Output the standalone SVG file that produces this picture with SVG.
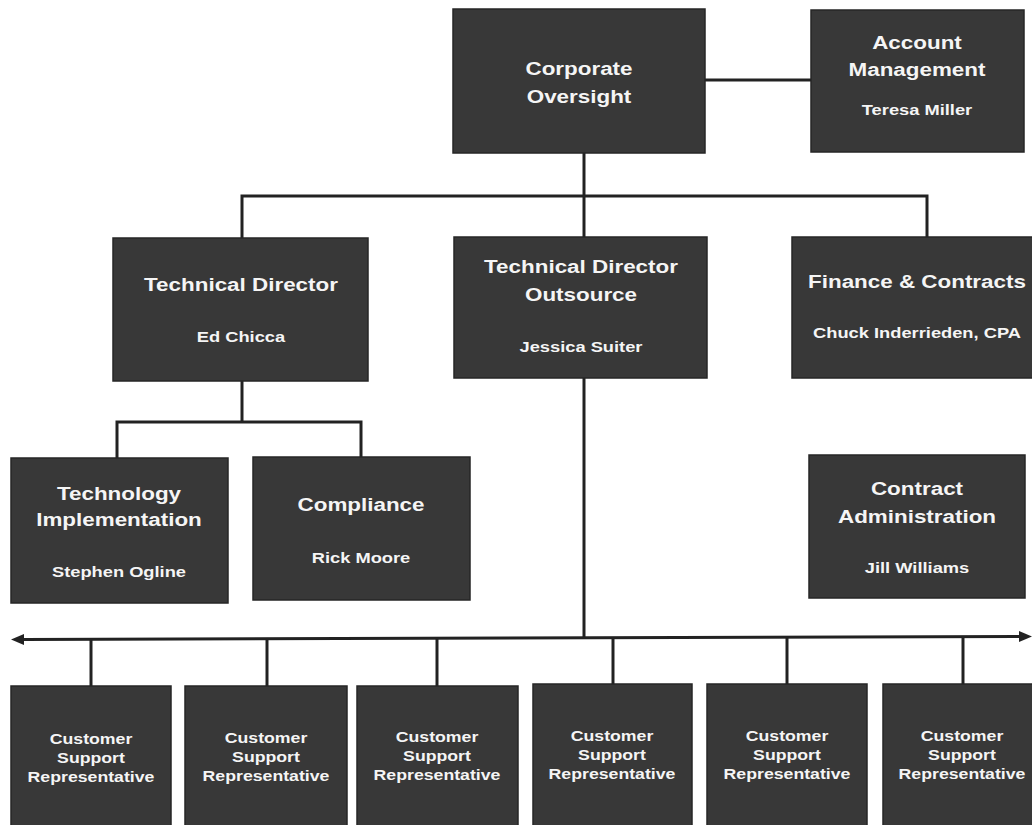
<svg xmlns="http://www.w3.org/2000/svg" width="1032" height="825" viewBox="0 0 1032 825">
<defs>
<style>
.box{fill:#383838;stroke:#262626;stroke-width:1.5}
.t{font-family:"Liberation Sans",Arial,sans-serif;font-weight:bold;fill:#f5f5f5;text-anchor:middle;font-size:19px}
.n{font-family:"Liberation Sans",Arial,sans-serif;font-weight:bold;fill:#f5f5f5;text-anchor:middle;font-size:15.5px}
.c{font-family:"Liberation Sans",Arial,sans-serif;font-weight:bold;fill:#f5f5f5;text-anchor:middle;font-size:15px}
.ln{stroke:#222;stroke-width:3;fill:none}
</style>
<marker id="arr" markerUnits="userSpaceOnUse" markerWidth="14" markerHeight="12" viewBox="0 0 14 12" refX="0" refY="6" orient="auto-start-reverse">
<path d="M0,0.5 L13,6 L0,11.5 z" fill="#222"/>
</marker>
</defs>
<rect width="1032" height="825" fill="#ffffff"/>

<g id="connectors">
<line class="ln" x1="705" y1="80" x2="811" y2="80"/>
<line class="ln" x1="584" y1="153" x2="584" y2="237"/>
<polyline class="ln" points="242,238 242,196 927,196 927,237"/>
<line class="ln" x1="242" y1="381" x2="242" y2="422"/>
<polyline class="ln" points="117,458 117,422 361,422 361,457"/>
<line class="ln" x1="584" y1="378" x2="584" y2="638"/>
<line class="ln" x1="24" y1="639.5" x2="1019" y2="636.5" marker-start="url(#arr)" marker-end="url(#arr)"/>
<line class="ln" x1="91" y1="639" x2="91" y2="686"/>
<line class="ln" x1="267" y1="639" x2="267" y2="686"/>
<line class="ln" x1="437" y1="638" x2="437" y2="686"/>
<line class="ln" x1="613" y1="638" x2="613" y2="686"/>
<line class="ln" x1="787" y1="637" x2="787" y2="686"/>
<line class="ln" x1="963" y1="637" x2="963" y2="686"/>
</g>

<g id="corporate">
<rect class="box" x="453" y="9" width="252" height="144"/>
<text class="t" transform="translate(579 75) scale(1.18 1)">Corporate</text>
<text class="t" transform="translate(579 103) scale(1.18 1)">Oversight</text>
</g>
<g id="account">
<rect class="box" x="811" y="10" width="213" height="142"/>
<text class="t" transform="translate(917 49) scale(1.18 1)">Account</text>
<text class="t" transform="translate(917 76) scale(1.18 1)">Management</text>
<text class="n" transform="translate(917 115) scale(1.18 1)">Teresa Miller</text>
</g>
<g id="tech-director">
<rect class="box" x="113" y="238" width="255" height="143"/>
<text class="t" transform="translate(241 291) scale(1.18 1)">Technical Director</text>
<text class="n" transform="translate(241 342) scale(1.18 1)">Ed Chicca</text>
</g>
<g id="tech-director-outsource">
<rect class="box" x="454" y="237" width="253" height="141"/>
<text class="t" transform="translate(581 273) scale(1.18 1)">Technical Director</text>
<text class="t" transform="translate(581 301) scale(1.18 1)">Outsource</text>
<text class="n" transform="translate(581 352) scale(1.18 1)">Jessica Suiter</text>
</g>
<g id="finance">
<rect class="box" x="792" y="237" width="252" height="141"/>
<text class="t" transform="translate(917 288) scale(1.18 1)">Finance &amp; Contracts</text>
<text class="n" transform="translate(917 338) scale(1.18 1)">Chuck Inderrieden, CPA</text>
</g>
<g id="tech-implementation">
<rect class="box" x="11" y="458" width="217" height="145"/>
<text class="t" transform="translate(119 500) scale(1.18 1)">Technology</text>
<text class="t" transform="translate(119 526) scale(1.18 1)">Implementation</text>
<text class="n" transform="translate(119 577) scale(1.18 1)">Stephen Ogline</text>
</g>
<g id="compliance">
<rect class="box" x="253" y="457" width="217" height="143"/>
<text class="t" transform="translate(361 511) scale(1.18 1)">Compliance</text>
<text class="n" transform="translate(361 563) scale(1.18 1)">Rick Moore</text>
</g>
<g id="contract-admin">
<rect class="box" x="809" y="455" width="216" height="143"/>
<text class="t" transform="translate(917 495) scale(1.18 1)">Contract</text>
<text class="t" transform="translate(917 523) scale(1.18 1)">Administration</text>
<text class="n" transform="translate(917 573) scale(1.18 1)">Jill Williams</text>
</g>

<g id="csr1">
<rect class="box" x="11" y="686" width="160" height="145"/>
<text class="c" transform="translate(91 744) scale(1.18 1)">Customer</text>
<text class="c" transform="translate(91 763) scale(1.18 1)">Support</text>
<text class="c" transform="translate(91 782) scale(1.18 1)">Representative</text>
</g>
<g id="csr2">
<rect class="box" x="185" y="686" width="162" height="145"/>
<text class="c" transform="translate(266 743) scale(1.18 1)">Customer</text>
<text class="c" transform="translate(266 762) scale(1.18 1)">Support</text>
<text class="c" transform="translate(266 781) scale(1.18 1)">Representative</text>
</g>
<g id="csr3">
<rect class="box" x="357" y="686" width="161" height="145"/>
<text class="c" transform="translate(437 742) scale(1.18 1)">Customer</text>
<text class="c" transform="translate(437 761) scale(1.18 1)">Support</text>
<text class="c" transform="translate(437 780) scale(1.18 1)">Representative</text>
</g>
<g id="csr4">
<rect class="box" x="533" y="684" width="159" height="147"/>
<text class="c" transform="translate(612 741) scale(1.18 1)">Customer</text>
<text class="c" transform="translate(612 760) scale(1.18 1)">Support</text>
<text class="c" transform="translate(612 779) scale(1.18 1)">Representative</text>
</g>
<g id="csr5">
<rect class="box" x="707" y="684" width="160" height="147"/>
<text class="c" transform="translate(787 741) scale(1.18 1)">Customer</text>
<text class="c" transform="translate(787 760) scale(1.18 1)">Support</text>
<text class="c" transform="translate(787 779) scale(1.18 1)">Representative</text>
</g>
<g id="csr6">
<rect class="box" x="883" y="684" width="160" height="147"/>
<text class="c" transform="translate(962 741) scale(1.18 1)">Customer</text>
<text class="c" transform="translate(962 760) scale(1.18 1)">Support</text>
<text class="c" transform="translate(962 779) scale(1.18 1)">Representative</text>
</g>
</svg>
